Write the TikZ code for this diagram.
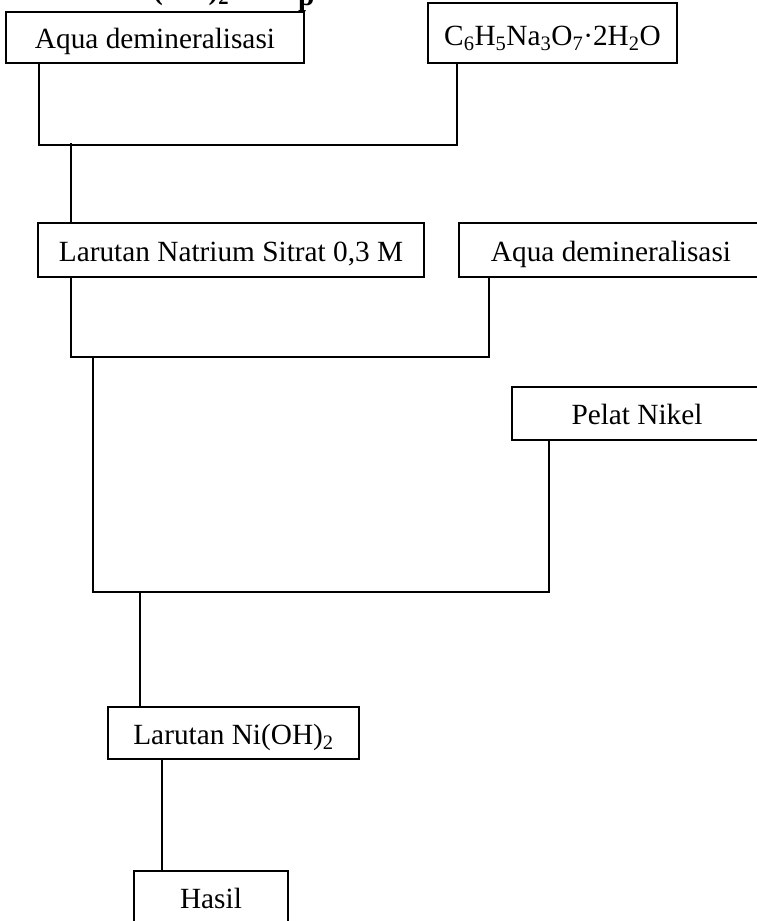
\documentclass[tikz,border=0pt]{standalone}
\usepackage{fontspec}
\setmainfont{Liberation Serif}
\begin{document}
\begin{tikzpicture}[x=1pt,y=-1pt,
  box/.style={draw, line width=1.6pt, rectangle, inner sep=0pt, text height=22pt, text depth=0pt, align=center, font=\fontsize{29.3}{35}\selectfont},
  conn/.style={line width=1.6pt},
  ttl/.style={font=\bfseries\fontsize{29.3}{35}\selectfont, anchor=base west, inner sep=0pt}]
\useasboundingbox (0,0) rectangle (757,921);
\clip (0,0) rectangle (757,921);
% cut-off title fragments
\node[ttl] (t1) at (153,-1) {(OH)\textsubscript{2}};
\node[ttl] (t2) at (298,5.5) {p};
% boxes
\node[box, minimum width=298pt, minimum height=51pt] (b1) at (155,37.5) {Aqua demineralisasi};
\node[box, minimum width=249pt, minimum height=60pt, text height=25pt] (b2) at (552.5,33) {C\textsubscript{6}H\textsubscript{5}Na\textsubscript{3}O\textsubscript{7}·2H\textsubscript{2}O};
\node[box, minimum width=386pt, minimum height=54pt] (b3) at (231,250) {Larutan Natrium Sitrat 0,3 M};
\node[box, minimum width=304pt, minimum height=54pt] (b4) at (611,250) {Aqua demineralisasi};
\node[box, minimum width=250pt, minimum height=53pt] (b5) at (637,413.5) {Pelat Nikel};
\node[box, minimum width=251pt, minimum height=52pt] (b6) at (233.5,733) {Larutan Ni(OH)\textsubscript{2}};
\node[box, minimum width=154pt, minimum height=52pt] (b7) at (211,897) {Hasil};
% junction coordinates
\coordinate (xa) at (39,145);
\coordinate (xb) at (457,145);
\coordinate (j1) at (71,143);
\coordinate (j2) at (71,357);
\coordinate (j3) at (489,357);
\coordinate (j4) at (93,357);
\coordinate (j5) at (93,592);
\coordinate (j6) at (549,592);
\coordinate (j7) at (140,592);
\coordinate (j8) at (162,800);
% connectors
\draw[conn] (b1.south -| xa) -- (xa) -- (xb) -- (b2.south -| xb);
\draw[conn] (j1) -- (b3.north -| j1);
\draw[conn] (b3.south -| j2) -- (j2) -- (j3) -- (b4.south -| j3);
\draw[conn] (j4) -- (j5) -- (j6) -- (b5.south -| j6);
\draw[conn] (j7) -- (b6.north -| j7);
\draw[conn] (b6.south -| j8) -- (b7.north -| j8);
\end{tikzpicture}
\end{document}
